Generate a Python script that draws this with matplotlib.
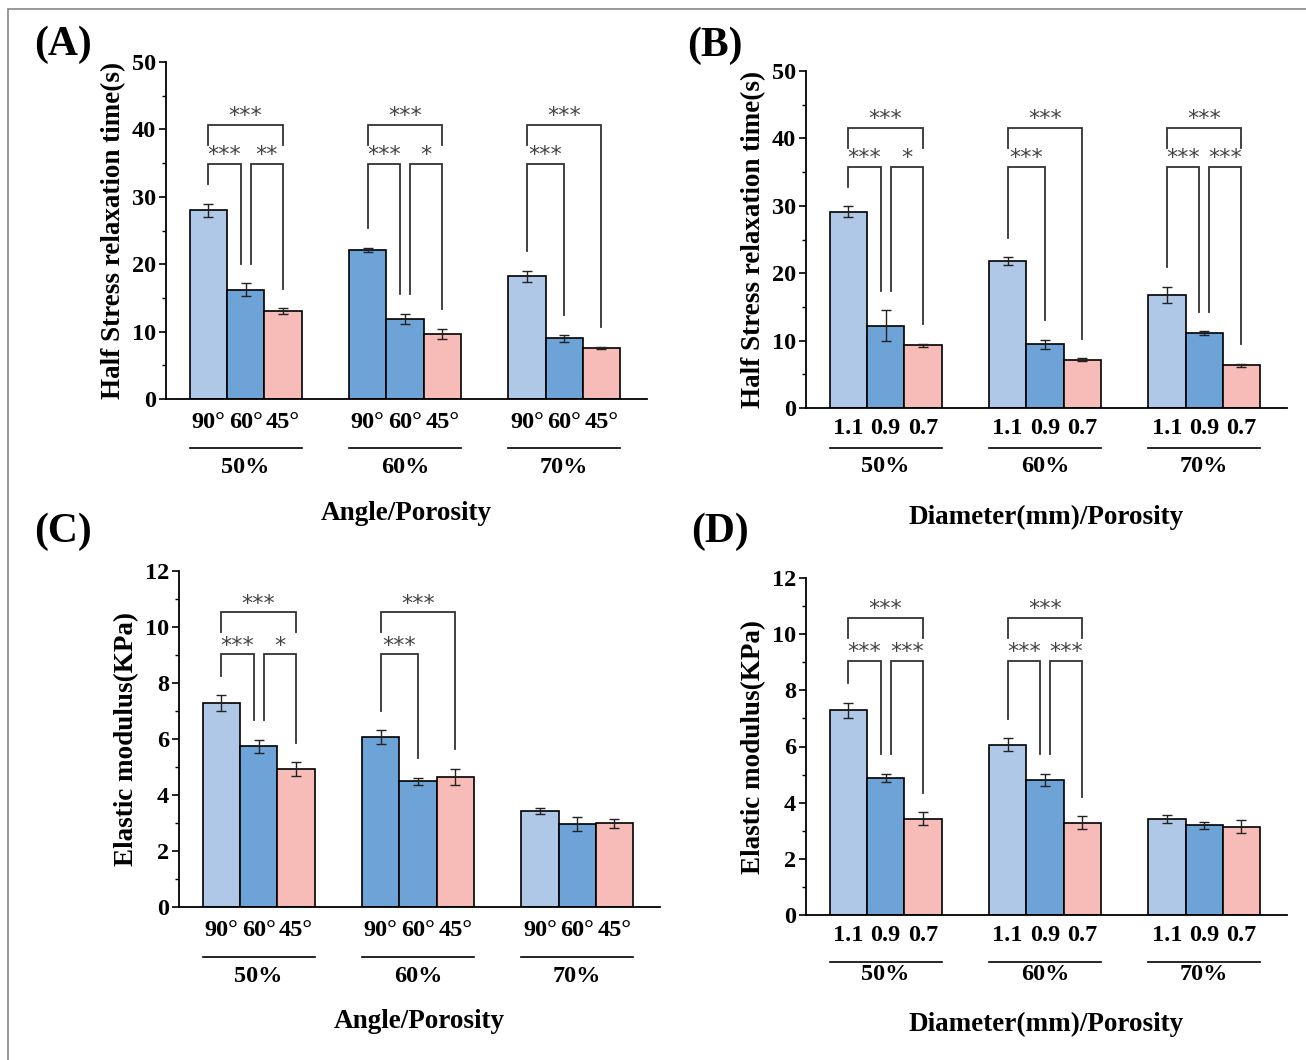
import numpy as np
import matplotlib
matplotlib.use("Agg")
import matplotlib.pyplot as plt
import matplotlib.transforms as mtransforms
from matplotlib.patches import Rectangle
from matplotlib.ticker import MultipleLocator

plt.rcParams['font.family'] = ['Liberation Serif', 'DejaVu Serif']
plt.rcParams['font.weight'] = 'bold'

# ---- data ----
porosity = ['50%', '60%', '70%']
angles = ['90°', '60°', '45°']
diameters = ['1.1', '0.9', '0.7']

# half stress relaxation time (s), by angle
relax_angle = [[28.0, 16.2, 13.0], [22.1, 11.9, 9.7], [18.2, 9.0, 7.6]]
relax_angle_err = [[1.0, 0.95, 0.45], [0.3, 0.75, 0.75], [0.85, 0.55, 0.15]]
# half stress relaxation time (s), by diameter
relax_diam = [[29.1, 12.2, 9.3], [21.75, 9.45, 7.15], [16.75, 11.1, 6.35]]
relax_diam_err = [[0.8, 2.3, 0.25], [0.6, 0.7, 0.2], [1.2, 0.3, 0.25]]
# elastic modulus (KPa), by angle
mod_angle = [[7.28, 5.74, 4.93], [6.07, 4.49, 4.64], [3.43, 2.97, 2.99]]
mod_angle_err = [[0.28, 0.24, 0.24], [0.24, 0.12, 0.3], [0.12, 0.25, 0.17]]
# elastic modulus (KPa), by diameter
mod_diam = [[7.29, 4.88, 3.43], [6.07, 4.80, 3.28], [3.43, 3.19, 3.15]]
mod_diam_err = [[0.27, 0.14, 0.22], [0.23, 0.22, 0.23], [0.14, 0.13, 0.22]]

# significance: (group, bar_i, bar_j, label)
sig_a = [(0, 0, 2, '***'), (0, 0, 1, '***'), (0, 1, 2, '**'),
         (1, 0, 2, '***'), (1, 0, 1, '***'), (1, 1, 2, '*'),
         (2, 0, 2, '***'), (2, 0, 1, '***')]
sig_b = [(0, 0, 2, '***'), (0, 0, 1, '***'), (0, 1, 2, '*'),
         (1, 0, 2, '***'), (1, 0, 1, '***'),
         (2, 0, 2, '***'), (2, 0, 1, '***'), (2, 1, 2, '***')]
sig_c = [(0, 0, 2, '***'), (0, 0, 1, '***'), (0, 1, 2, '*'),
         (1, 0, 2, '***'), (1, 0, 1, '***')]
sig_d = [(0, 0, 2, '***'), (0, 0, 1, '***'), (0, 1, 2, '***'),
         (1, 0, 2, '***'), (1, 0, 1, '***'), (1, 1, 2, '***')]

# ---- style ----
LIGHT = '#b0c8e8'
MID = '#6ea3d7'
PINK = '#f7bcb8'
colors_std = [[LIGHT, MID, PINK]] * 3
colors_alt = [[LIGHT, MID, PINK], [MID, MID, PINK], [LIGHT, MID, PINK]]

W, H = 1306, 1060
fig = plt.figure(figsize=(W / 100, H / 100), dpi=100)

# page frame
fig.patches.append(Rectangle((8 / W, -0.1), 1.2, 1.1 - 9 / H, transform=fig.transFigure,
                             fill=False, edgecolor='#888888', lw=1.2))

bw = 0.234
off = 0.031


def panel(box, means, errs, colors, sigs, labels, ymax, step, ylabel, xlabel,
          low, high, dy):
    # box: left, top, bottom in pixels
    l, t, b = box
    ax = fig.add_axes([l / W, 1 - b / H, 481 / W, (b - t) / H])
    means = np.array(means)
    errs = np.array(errs)
    xs = []
    for g in range(3):
        for k in range(3):
            x = g + (k - 1) * bw
            xs.append(x)
            ax.bar(x, means[g, k], width=bw, color=colors[g][k], edgecolor='black',
                   linewidth=1.2, zorder=2)
            ax.errorbar(x, means[g, k], yerr=errs[g, k], color='#222222', lw=1.0,
                        capsize=3.5, capthick=1.0, zorder=3)
    ax.set_xlim(-0.5, 2.52)
    ax.set_ylim(0, ymax)
    ax.yaxis.set_major_locator(MultipleLocator(step))
    ax.yaxis.set_minor_locator(MultipleLocator(step / 2))
    for s in ['top', 'right']:
        ax.spines[s].set_visible(False)
    for s in ['left', 'bottom']:
        ax.spines[s].set_linewidth(1.3)
    ax.set_xticks(xs)
    ax.set_xticklabels(labels * 3, fontsize=17.5, fontweight='bold')
    ax.tick_params(axis='x', length=0, pad=dy[0])
    ax.tick_params(axis='y', which='major', length=5, width=1.2, labelsize=17.5, pad=2)
    ax.tick_params(axis='y', which='minor', length=3, width=1.0)
    ax.set_ylabel(ylabel, fontsize=19.5, fontweight='bold', labelpad=4)

    # porosity group lines and labels
    tr_line = mtransforms.offset_copy(ax.get_xaxis_transform(), fig=fig, y=-dy[1], units='dots')
    tr_pct = mtransforms.offset_copy(ax.get_xaxis_transform(), fig=fig, y=-dy[2], units='dots')
    for g in range(3):
        ax.plot([g - 1.5 * bw, g + 1.5 * bw], [0, 0], color='black', lw=1.2,
                transform=tr_line, clip_on=False)
        ax.text(g, 0, porosity[g], transform=tr_pct, ha='center', va='center',
                fontsize=17.5, fontweight='bold')
    tr_lab = mtransforms.offset_copy(ax.transAxes, fig=fig, y=-dy[3], units='dots')
    ax.text(0.5, 0, xlabel, transform=tr_lab, ha='center', va='center',
            fontsize=19.5, fontweight='bold')

    # significance brackets
    gap = 0.058 * ymax
    short = 0.06 * ymax
    pairs = {(g, i, j) for g, i, j, _ in sigs}
    tops = means + errs
    for g, i, j, lab in sigs:
        xi = g + (i - 1) * bw
        xj = g + (j - 1) * bw
        if j - i == 2:
            lev = high * ymax
            yi = lev - short if (g, 0, 1) in pairs else tops[g, i] + gap
            yj = lev - short if (g, 1, 2) in pairs else tops[g, j] + gap
        else:
            lev = low * ymax
            if i == 1 and (g, 0, 1) in pairs:
                xi += off
            if j == 1 and (g, 1, 2) in pairs:
                xj -= off
            yi = tops[g, i] + gap
            yj = tops[g, j] + gap
        ax.plot([xi, xi, xj, xj], [yi, lev, lev, yj], color='#333333', lw=1.3,
                zorder=4, solid_joinstyle='miter')
        ax.annotate(lab, ((xi + xj) / 2, lev), xytext=(0, -1),
                    textcoords='offset points', ha='center', va='bottom', fontsize=16,
                    fontweight='normal', color='#444444', family='DejaVu Sans')
    return ax


panel((166, 62, 399), relax_angle, relax_angle_err, colors_alt, sig_a, angles, 50, 10,
      'Half Stress relaxation time(s)', 'Angle/Porosity', 0.698, 0.814, (9, 49, 68, 114))
panel((806, 71, 408), relax_diam, relax_diam_err, colors_std, sig_b, diameters, 50, 10,
      'Half Stress relaxation time(s)', 'Diameter(mm)/Porosity', 0.715, 0.832, (7, 40, 59, 109))
panel((179, 571, 907), mod_angle, mod_angle_err, colors_alt, sig_c, angles, 12, 2,
      'Elastic modulus(KPa)', 'Angle/Porosity', 0.752, 0.877, (9, 50, 69, 114))
panel((806, 578, 915), mod_diam, mod_diam_err, colors_std, sig_d, diameters, 12, 2,
      'Elastic modulus(KPa)', 'Diameter(mm)/Porosity', 0.754, 0.881, (7, 47, 60, 109))

for lab, x, y in [('(A)', 63, 45), ('(B)', 715, 46), ('(C)', 63, 532), ('(D)', 720, 532)]:
    fig.text(x / W, 1 - y / H, lab, ha='center', va='center', fontsize=30, fontweight='bold')

fig.savefig('out.png', dpi=100)
